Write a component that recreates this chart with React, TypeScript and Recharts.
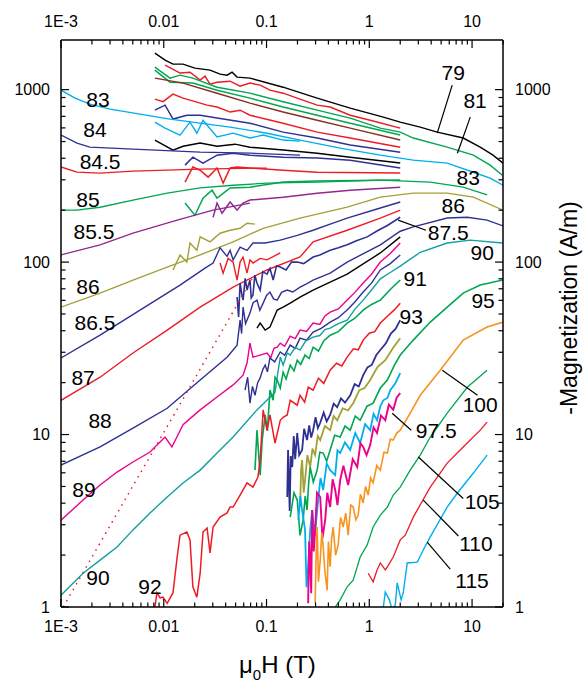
import React from 'react';
import { LineChart, Line, XAxis, YAxis, ReferenceDot, ReferenceLine } from 'recharts';

type P = [number, number];

// ---- series (field in T, -magnetization in A/m) ----
const m79: P[] = [[0.0082,1628],[0.0103,1482],[0.0123,1406],[0.0154,1406],[0.0201,1333],[0.0282,1297],[0.0353,1230],[0.0413,1213],[0.0462,1262],[0.0517,1182],[0.069,1166],[0.145,1033],[0.311,893],[0.652,781],[1.37,693],[2.0,648],[3.13,606],[4.58,567],[8.2,524],[12.0,464],[16.0,417],[20,375]];
const m80: P[] = [[0.0103,1387],[0.0144,1247],[0.018,1262],[0.0226,1135],[0.0252,1197],[0.0282,1076],[0.033,1105],[0.0442,1120],[0.0553,1047],[0.069,1091],[0.0867,1062],[0.108,993],[0.145,954],[0.212,881],[0.311,813],[0.416,792],[0.652,711],[1.02,665],[2.0,598]];
const m81: P[] = [[0.0082,1350],[0.0115,1166],[0.0144,1213],[0.0192,1166],[0.033,1033],[0.069,954],[0.145,851],[0.311,760],[0.652,684],[1.28,598],[2.0,567],[2.68,524],[5.73,464],[10.3,417],[15.0,365],[19.7,319]];
const m81b: P[] = [[0.0082,1297],[0.0115,1105],[0.0192,1091],[0.033,993],[0.069,893],[0.145,792],[0.311,711],[0.652,639],[2.0,545]];
const m82: P[] = [[0.0082,1166],[0.0154,1091],[0.033,954],[0.069,835],[0.145,741],[0.311,665],[0.652,598],[2.0,510]];
const m82b: P[] = [[0.0082,881],[0.00983,851],[0.0123,942],[0.0154,893],[0.0264,813],[0.033,792],[0.0442,741],[0.0553,760],[0.069,711],[0.145,639],[0.311,567],[0.652,524],[2.0,464]];
const m825: P[] = [[0.0082,760],[0.0103,813],[0.0123,675],[0.0168,711],[0.0226,711],[0.033,684],[0.069,639],[0.145,567],[0.311,524],[0.652,477],[2.0,434]];
const m83: P[] = [[0.001,993],[0.00137,893],[0.00191,824],[0.003,771],[0.00587,721],[0.0115,675],[0.0226,639],[0.0442,606],[0.101,559],[0.212,510],[0.521,458],[1.28,417],[2.68,390],[5.73,375],[10.3,332],[15.0,307],[20,279]];
const m83n: P[] = [[0.0082,648],[0.0103,598],[0.0144,545],[0.018,648],[0.021,559],[0.0241,665],[0.033,531],[0.0473,559],[0.069,524],[0.0927,545],[0.145,510],[0.212,503]];
const m835: P[] = [[0.0082,510],[0.0123,446],[0.0154,470],[0.0226,490],[0.033,470],[0.0494,483],[0.069,464],[0.145,446],[0.311,428],[0.652,406],[2.0,375]];
const m84s: P[] = [[0.001,545],[0.00143,490],[0.00191,464],[0.00502,452],[0.0226,434],[0.069,428],[0.212,417]];
const m84n: P[] = [[0.0161,365],[0.0192,406],[0.0241,375],[0.033,417],[0.0473,428],[0.069,417],[0.145,406],[0.311,401],[0.652,390],[2.0,351]];
const m845s: P[] = [[0.001,356],[0.00143,332],[0.0024,328],[0.00502,337],[0.0226,346],[0.101,351]];
const m845n: P[] = [[0.0161,291],[0.0192,356],[0.0226,341],[0.027,311],[0.033,351],[0.0378,287],[0.0442,351],[0.0517,356],[0.069,351],[0.145,341],[0.311,332],[2.0,328]];
const m85s: P[] = [[0.001,200],[0.00143,200],[0.0024,208],[0.00502,229],[0.0108,251],[0.0226,269],[0.0473,279],[0.101,287],[0.311,291],[1.28,299],[3.92,291],[8.2,272],[14.0,245]];
const m85n: P[] = [[0.0161,220],[0.0201,187],[0.0241,235],[0.0295,261],[0.033,235],[0.0442,269],[0.069,272],[0.145,291],[0.311,295],[2.0,299]];
const m855s: P[] = [[0.001,110],[0.0024,126],[0.00502,147],[0.0135,175],[0.0302,200],[0.069,220]];
const m855n: P[] = [[0.0302,182],[0.033,220],[0.0369,192],[0.0442,223],[0.0517,200],[0.0591,220],[0.069,229],[0.145,238],[0.311,251],[0.652,261],[2.0,272]];
const m86s: P[] = [[0.001,54.8],[0.0024,66.1],[0.00502,78.7],[0.0108,93.6],[0.0226,110],[0.0473,131],[0.0927,157],[0.212,180],[0.609,208],[1.28,238],[2.68,251],[5.73,251],[10.3,238],[20,200]];
const m86n: P[] = [[0.0123,90],[0.0144,110],[0.0168,100],[0.018,129],[0.021,117],[0.0226,140],[0.0282,131],[0.0353,147],[0.0442,153],[0.0553,157],[0.0646,168],[0.0772,166]];
const m865: P[] = [[0.001,27.8],[0.0024,37.7],[0.00587,52.7],[0.0144,73.6],[0.0252,92.3],[0.0302,98.7],[0.0353,121],[0.0413,108],[0.0442,117],[0.0473,103],[0.0553,122],[0.0646,117],[0.0738,129],[0.097,129],[0.136,134],[0.199,143],[0.284,153],[0.416,166],[0.609,180],[1.28,206],[2.0,223]];
const m87s: P[] = [[0.001,15.8],[0.0024,21.5],[0.00502,29.7],[0.0108,40.3],[0.0226,54.8],[0.0473,71.6],[0.101,90],[0.212,107],[0.284,131],[0.609,153],[1.28,180],[2.0,200]];
const m87n: P[] = [[0.0353,98.7],[0.0378,86.3],[0.0423,105],[0.0473,100],[0.0517,78.7],[0.0553,100],[0.0591,107],[0.0646,86.3],[0.069,103],[0.0738,98.7],[0.0867,105],[0.101,103],[0.136,113]];
const m875: P[] = [[0.0517,62.7],[0.0535,48],[0.0553,75.6],[0.0572,66],[0.0591,60.2],[0.062,80.5],[0.0646,68.8],[0.069,78.7],[0.071,62],[0.0738,64.4],[0.077,84],[0.0807,75.6],[0.0867,68.8],[0.092,88],[0.101,85.2],[0.108,92],[0.116,78.7],[0.125,95],[0.136,93.6],[0.155,90],[0.175,100],[0.199,100],[0.23,98],[0.284,107],[0.33,110],[0.416,117],[0.5,121],[0.609,126],[0.75,133],[0.953,140],[1.2,152],[1.5,163],[2.0,182]];
const m88: P[] = [[0.001,6.65],[0.0024,8.47],[0.00502,10.9],[0.0108,14.2],[0.0226,20.7],[0.0413,28.1],[0.0517,33.0],[0.0553,46.1],[0.0572,38.5],[0.0591,54.8],[0.0625,44.0],[0.069,50.6],[0.074,58.1],[0.0807,60.2],[0.086,52.6],[0.0927,57.8],[0.1,64.0],[0.108,67.0],[0.117,61.2],[0.127,60.2],[0.14,66.8],[0.159,68.8],[0.18,67.1],[0.212,71.6],[0.245,74.8],[0.284,78.7],[0.416,86.3],[0.609,100],[1.28,126],[2.0,151],[2.68,160],[5.73,180],[8.98,182],[14.0,175],[20,162]];
const m885: P[] = [[0.0807,41.4],[0.0867,44.3],[0.097,40.3],[0.108,42.0],[0.127,52.7],[0.145,54.8],[0.170,57.8],[0.212,62.7],[0.284,68.8],[0.416,76.6],[0.609,85.2],[1.28,113],[2.0,140]];
const m89: P[] = [[0.001,3.19],[0.00164,4.17],[0.0024,5.10],[0.00351,6.06],[0.00502,6.93],[0.00735,7.92],[0.0092,9.04],[0.0103,9.67],[0.012,8.47],[0.0154,11.4],[0.0226,13.9],[0.033,16.5],[0.0473,19.4],[0.0591,22.1],[0.0646,26.0],[0.069,33.9],[0.0738,28.1],[0.0867,28.9],[0.101,29.7],[0.11,27.9],[0.118,31.6],[0.127,32.1],[0.136,33.9],[0.15,32.5],[0.17,37.2],[0.19,36.0],[0.212,40.3],[0.245,39.6],[0.284,44.3],[0.33,43.5],[0.37,48.7],[0.416,51.3],[0.5,53.5],[0.609,60.2],[0.72,66.5],[0.872,75.6],[1.05,85.0],[1.28,100],[1.6,112],[2.0,129]];
const m895: P[] = [[0.0618,18.1],[0.0655,21.5],[0.069,15.2],[0.073,19.0],[0.0772,16.9],[0.082,20.0],[0.0867,21.3],[0.092,23.8],[0.097,25.3],[0.102,23.1],[0.108,27.8],[0.12,26.4],[0.136,30.1],[0.15,28.8],[0.170,33.0],[0.19,31.6],[0.212,36.2],[0.245,35.2],[0.284,39.3],[0.34,41.3],[0.416,44.9],[0.5,47.6],[0.609,52.7],[0.72,58.5],[0.872,67.0],[1.05,75.5],[1.28,90],[1.6,98],[2.0,110]];
const m90: P[] = [[0.001,1.17],[0.00164,1.57],[0.0024,1.87],[0.00351,2.23],[0.00502,2.80],[0.00735,3.51],[0.0108,4.34],[0.0154,5.24],[0.0226,6.22],[0.033,7.81],[0.0473,9.67],[0.0807,13.9],[0.121,17.6],[0.127,21.5],[0.136,28.1],[0.145,25.3],[0.159,29.7],[0.170,28.9],[0.19,32.0],[0.212,30.9],[0.24,34.8],[0.284,36.7],[0.33,37.5],[0.37,40.6],[0.416,41.4],[0.5,44.0],[0.609,46.1],[0.72,53.0],[0.872,60.2],[1.05,68.9],[1.28,80],[1.6,87],[2.0,94.8],[3.13,114],[5.73,129],[9.6,134],[19.7,129]];
const mFit: P[] = [[0.00105,1],[0.0144,15.0],[0.0738,81.9]];
const m91: P[] = [[0.0772,6.22],[0.0807,10.6],[0.0867,5.82],[0.0907,9.29],[0.097,13.0],[0.102,10.5],[0.108,18.1],[0.116,15.8],[0.121,21.5],[0.127,20.7],[0.136,18.6],[0.145,23.0],[0.155,21.0],[0.170,25.3],[0.185,23.4],[0.199,27.0],[0.215,25.5],[0.237,28.9],[0.26,27.6],[0.284,32.1],[0.32,30.5],[0.36,34.9],[0.416,37.7],[0.5,39.5],[0.609,44.3],[0.72,47.1],[0.872,52.7],[1.05,56.8],[1.28,60.2],[1.6,69.4],[2.0,78.7]];
const m92: P[] = [[0.0082,1.0],[0.00858,1.21],[0.0092,1.13],[0.00983,1.14],[0.0108,1.05],[0.0123,1.21],[0.0135,1.95],[0.0144,2.61],[0.0168,2.72],[0.018,2.45],[0.0192,1.31],[0.021,1.14],[0.0226,1.57],[0.0241,2.72],[0.0264,2.87],[0.0282,2.06],[0.0302,2.91],[0.0353,3.32],[0.0413,3.51],[0.0442,3.80],[0.0473,3.80],[0.0553,4.46],[0.0646,5.24],[0.0738,4.96],[0.0825,5.67],[0.0867,7.11],[0.0927,13.9],[0.101,10.6],[0.108,13.0],[0.121,8.93],[0.136,12.1],[0.145,12.6],[0.159,13.0],[0.170,15.8],[0.199,14.8],[0.212,16.9],[0.235,15.4],[0.255,18.8],[0.284,18.1],[0.32,21.2],[0.36,19.8],[0.416,23.6],[0.48,25.9],[0.54,25.0],[0.609,28.1],[0.7,31.4],[0.78,31.0],[0.872,35.3],[1.0,38.7],[1.13,39.5],[1.28,44.3],[1.5,48.5],[1.75,52.8],[2.0,57.8]];
const m93: P[] = [[0.159,4.34],[0.162,8.13],[0.168,3.6],[0.172,7.5],[0.178,6.48],[0.184,9.8],[0.190,7.2],[0.199,10.2],[0.208,7.6],[0.222,8.13],[0.232,10.8],[0.248,9.29],[0.26,11.3],[0.272,9.6],[0.284,10.6],[0.30,12.6],[0.316,10.9],[0.333,11.7],[0.36,13.4],[0.385,11.9],[0.416,13.0],[0.45,15.1],[0.487,14.4],[0.53,16.2],[0.58,15.3],[0.652,16.9],[0.72,19.6],[0.79,19.0],[0.872,22.1],[0.96,24.5],[1.06,25.4],[1.17,28.9],[1.28,30.9],[1.45,33.8],[1.62,38.5],[1.8,41.0],[2.0,46.1]];
const m94: P[] = [[0.212,3.80],[0.217,6.2],[0.222,7.11],[0.23,4.6],[0.237,5.45],[0.25,7.6],[0.266,6.48],[0.28,8.3],[0.297,7.60],[0.315,9.8],[0.333,9.29],[0.37,11.2],[0.416,10.6],[0.45,12.8],[0.487,12.1],[0.55,14.2],[0.62,13.8],[0.697,15.2],[0.80,18.1],[0.9,18.6],[1.02,20.7],[1.2,24.6],[1.43,27.0],[1.7,31.8],[2.0,36.2]];
const m95: P[] = [[0.170,3.32],[0.185,4.6],[0.199,4.17],[0.212,2.6],[0.227,3.19],[0.238,4.4],[0.248,3.65],[0.257,5.2],[0.266,6.48],[0.285,5.3],[0.311,6.22],[0.33,7.9],[0.356,7.81],[0.385,7.0],[0.416,8.13],[0.46,9.9],[0.521,9.67],[0.58,11.2],[0.652,10.6],[0.73,12.8],[0.815,12.1],[0.95,14.6],[1.09,15.2],[1.28,18.6],[1.50,20.7],[1.75,25.2],[2.0,28.9],[2.68,35.3],[3.92,44.9],[5.73,54.8],[8.2,66.1],[12.0,73.6],[20,78.7]];
const m96: P[] = [[0.204,3.19],[0.213,4.4],[0.222,3.65],[0.237,2.80],[0.245,1.3],[0.254,1.71],[0.266,2.80],[0.278,3.65],[0.295,2.6],[0.318,4.17],[0.335,5.6],[0.356,4.77],[0.385,6.8],[0.416,6.22],[0.466,5.82],[0.49,8.1],[0.521,7.81],[0.58,9.0],[0.652,8.13],[0.73,10.2],[0.815,8.93],[0.91,11.5],[1.02,10.6],[1.1,13.2],[1.19,12.1],[1.28,14.6],[1.37,15.8],[1.5,16.3],[1.60,18.1],[1.8,19.9],[2.0,22.7]];
const m975: P[] = [[0.254,1.05],[0.26,2.4],[0.266,1.87],[0.272,1.2],[0.278,3.65],[0.288,2.1],[0.297,2.80],[0.31,4.6],[0.333,4.34],[0.35,2.5],[0.372,3.19],[0.39,4.6],[0.416,3.80],[0.44,5.5],[0.466,4.77],[0.49,3.9],[0.521,5.45],[0.56,6.6],[0.623,5.10],[0.69,7.2],[0.763,6.48],[0.82,8.9],[0.872,8.47],[0.94,7.6],[1.02,8.69],[1.1,11.0],[1.19,10.2],[1.3,12.9],[1.43,12.1],[1.55,14.9],[1.71,13.9],[1.85,16.4],[2.0,17.4]];
const m100: P[] = [[0.297,1.05],[0.304,2.0],[0.311,2.91],[0.32,1.4],[0.333,1.87],[0.345,2.7],[0.356,2.23],[0.37,1.6],[0.389,1.25],[0.40,2.4],[0.416,1.71],[0.43,2.5],[0.445,2.91],[0.47,2.0],[0.498,2.29],[0.525,3.3],[0.557,2.91],[0.59,3.5],[0.623,2.61],[0.66,3.9],[0.697,3.80],[0.74,3.2],[0.78,3.41],[0.82,4.5],[0.872,4.01],[0.92,5.0],[0.975,4.46],[1.03,5.6],[1.09,5.24],[1.18,6.6],[1.28,6.22],[1.39,7.9],[1.50,7.81],[1.6,9.4],[1.71,9.29],[1.85,10.2],[2.0,10.6],[2.5,13.3],[3.13,16.9],[4.9,23.6],[8.2,35.3],[14.0,42.0],[20,44.9]];
const m105: P[] = [[0.466,1.0],[0.521,1.10],[0.609,1.31],[0.697,1.43],[0.815,1.95],[0.953,2.29],[1.09,2.91],[1.28,3.41],[1.50,3.80],[1.71,4.46],[2.0,4.96],[2.5,6.22],[3.13,7.60],[3.92,9.67],[5.73,13.3],[8.98,18.8],[14.0,23.6]];
const m110: P[] = [[0.975,1.57],[1.09,1.40],[1.19,1.64],[1.28,1.80],[1.43,1.64],[1.50,1.71],[1.71,1.95],[2.0,2.45],[2.24,2.61],[2.68,3.32],[3.92,4.96],[5.73,6.83],[8.2,8.47],[12.0,10.6],[14.0,11.8]];
const m115: P[] = [[1.37,1.0],[1.43,1.22],[1.57,1.10],[1.67,0.96],[1.79,1.03],[1.87,1.38],[2.04,1.10],[2.14,1.21],[2.34,1.80],[2.93,1.82],[3.35,2.14],[3.92,2.55],[5.73,3.80],[7.2,4.58],[10.3,5.98],[14.0,7.60]];

// ---- curve labels [text, field, magnetization] ----
const leftLabels: [string, number, number][] = [['83',0.00229,881],['84',0.00214,590],['84.5',0.0024,385],['85',0.00183,232],['85.5',0.00209,151],['86',0.00183,72.6],['86.5',0.00214,44.9],['87',0.00164,21.3],['88',0.0024,12.1],['89',0.00167,4.82],['90',0.00229,1.49],['92',0.00735,1.31]];
const rightLabels: [string, number, number][] = [['79',6.56,1262],['81',10.7,860],['83',9.18,311],['86',6.56,214],['87.5',5.86,149],['90',12.55,113],['91',2.8,79.8],['93',2.56,48.6],['95',12.8,60.2],['100',12.0,15.0],['97.5',4.48,10.5],['105',12.55,4.11],['110',10.9,2.32],['115',10.0,1.43]];
// leader lines [x1, y1, x2, y2]
const leaders: [number, number, number, number][] = [[6.41,1062,4.58,559],[9.6,693,7.2,428],[1.91,175,3.56,153],[5.13,23.6,11.3,16.9],[1.67,13.3,2.56,10.6],[3.0,7.41,8.2,4.26],[3.35,4.17,7.36,2.58],[3.66,2.38,6.13,1.66]];

// ---- axes ----
const xMajor = [0.001, 0.01, 0.1, 1, 10];
const xMajorLabels = ['1E-3', '0.01', '0.1', '1', '10'];
const yMajor = [1, 10, 100, 1000];
const yMajorLabels = ['1', '10', '100', '1000'];
const minorSteps = [2, 3, 4, 5, 6, 7, 8, 9];
const X_DOMAIN: [number, number] = [0.001, 20];
const Y_DOMAIN: [number, number] = [1, 1940];

const xTicks = xMajor.flatMap((m) => [m, ...minorSteps.map((s) => +(m * s).toPrecision(3))]).filter((v) => v <= X_DOMAIN[1]);
const yTicks = yMajor.flatMap((m) => [m, ...minorSteps.map((s) => +(m * s).toPrecision(3))]).filter((v) => v <= Y_DOMAIN[1]);

const BLACK = '#000000', RED = '#ed1c24', GREEN = '#00a651', BROWN = '#8b2e1f', NAVY = '#2e3192',
  CYAN = '#00aeef', PURPLE = '#92278f', OLIVE = '#a3a035', MAGENTA = '#ec008c', TEAL = '#10a0a0', ORANGE = '#f7941d';

type Curve = { id: string; pts: P[]; color: string; w: number; dash?: string };
const curves: Curve[] = [
  { id: 'm79', pts: m79, color: BLACK, w: 1.4 },
  { id: 'm80', pts: m80, color: RED, w: 1.5 },
  { id: 'm81', pts: m81, color: GREEN, w: 1.4 },
  { id: 'm81b', pts: m81b, color: GREEN, w: 1.5 },
  { id: 'm82', pts: m82, color: BROWN, w: 1.5 },
  { id: 'm82b', pts: m82b, color: RED, w: 1.5 },
  { id: 'm825', pts: m825, color: NAVY, w: 1.5 },
  { id: 'm83n', pts: m83n, color: CYAN, w: 1.4 },
  { id: 'm83', pts: m83, color: CYAN, w: 1.4 },
  { id: 'm835', pts: m835, color: BLACK, w: 1.5 },
  { id: 'm84s', pts: m84s, color: NAVY, w: 1.3 },
  { id: 'm84n', pts: m84n, color: NAVY, w: 1.5 },
  { id: 'm845s', pts: m845s, color: RED, w: 1.3 },
  { id: 'm845n', pts: m845n, color: RED, w: 1.5 },
  { id: 'm85s', pts: m85s, color: GREEN, w: 1.3 },
  { id: 'm85n', pts: m85n, color: GREEN, w: 1.5 },
  { id: 'm855s', pts: m855s, color: PURPLE, w: 1.3 },
  { id: 'm855n', pts: m855n, color: PURPLE, w: 1.5 },
  { id: 'm86s', pts: m86s, color: OLIVE, w: 1.3 },
  { id: 'm86n', pts: m86n, color: OLIVE, w: 1.4 },
  { id: 'm865', pts: m865, color: NAVY, w: 1.4 },
  { id: 'm87s', pts: m87s, color: RED, w: 1.4 },
  { id: 'm87n', pts: m87n, color: RED, w: 1.4 },
  { id: 'm875', pts: m875, color: NAVY, w: 1.6 },
  { id: 'm88', pts: m88, color: NAVY, w: 1.4 },
  { id: 'm885', pts: m885, color: BLACK, w: 1.4 },
  { id: 'm89', pts: m89, color: MAGENTA, w: 1.4 },
  { id: 'm895', pts: m895, color: NAVY, w: 1.4 },
  { id: 'm90', pts: m90, color: TEAL, w: 1.4 },
  { id: 'mFit', pts: mFit, color: RED, w: 1.5, dash: '1.5 5' },
  { id: 'm91', pts: m91, color: GREEN, w: 1.6 },
  { id: 'm92', pts: m92, color: RED, w: 1.5 },
  { id: 'm93', pts: m93, color: NAVY, w: 1.8 },
  { id: 'm94', pts: m94, color: OLIVE, w: 1.8 },
  { id: 'm95', pts: m95, color: GREEN, w: 1.6 },
  { id: 'm96', pts: m96, color: CYAN, w: 1.8 },
  { id: 'm975', pts: m975, color: MAGENTA, w: 1.9 },
  { id: 'm100', pts: m100, color: ORANGE, w: 1.6 },
  { id: 'm105', pts: m105, color: GREEN, w: 1.3 },
  { id: 'm110', pts: m110, color: RED, w: 1.3 },
  { id: 'm115', pts: m115, color: CYAN, w: 1.4 },
];

const majorIndex = (v: number, majors: number[]) => majors.findIndex((m) => Math.abs(v / m - 1) < 1e-6);
const TICK_FONT = 16;

const BottomTick = (props: any) => {
  const { x, y, payload } = props;
  const i = majorIndex(payload.value, xMajor);
  const len = i >= 0 ? 8 : 4.5;
  return (
    <g>
      <line x1={x} y1={y} x2={x} y2={y - len} stroke="#000" strokeWidth={1.2} />
      {i >= 0 && <text x={x} y={y + 25} textAnchor="middle" fontSize={TICK_FONT} fill="#000">{xMajorLabels[i]}</text>}
    </g>
  );
};
const TopTick = (props: any) => {
  const { x, y, payload } = props;
  const i = majorIndex(payload.value, xMajor);
  const len = i >= 0 ? 8 : 4.5;
  return (
    <g>
      <line x1={x} y1={y} x2={x} y2={y + len} stroke="#000" strokeWidth={1.2} />
      {i >= 0 && <text x={x} y={y - 13} textAnchor="middle" fontSize={TICK_FONT} fill="#000">{xMajorLabels[i]}</text>}
    </g>
  );
};
const LeftTick = (props: any) => {
  const { x, y, payload } = props;
  const i = majorIndex(payload.value, yMajor);
  const len = i >= 0 ? 8 : 4.5;
  return (
    <g>
      <line x1={x} y1={y} x2={x + len} y2={y} stroke="#000" strokeWidth={1.2} />
      {i >= 0 && <text x={x - 11} y={y} dy="0.36em" textAnchor="end" fontSize={TICK_FONT} fill="#000">{yMajorLabels[i]}</text>}
    </g>
  );
};
const RightTick = (props: any) => {
  const { x, y, payload } = props;
  const i = majorIndex(payload.value, yMajor);
  const len = i >= 0 ? 8 : 4.5;
  return (
    <g>
      <line x1={x} y1={y} x2={x - len} y2={y} stroke="#000" strokeWidth={1.2} />
      {i >= 0 && <text x={x + 12} y={y} dy="0.36em" textAnchor="start" fontSize={TICK_FONT} fill="#000">{yMajorLabels[i]}</text>}
    </g>
  );
};

const axisLine = { stroke: '#000', strokeWidth: 1.5 };
const LABEL_FONT = 21;

export default function App() {
  return (
    <div style={{ position: 'relative', width: 587, height: 683 }}>
      <style>{'body{margin:0;overflow:hidden} svg text{font-family:"Liberation Sans",Arial,sans-serif}'}</style>
      <LineChart width={587} height={683} margin={{ top: 0, right: 0, bottom: 0, left: 0 }}>
        <XAxis dataKey="x" type="number" scale="log" domain={X_DOMAIN} allowDataOverflow ticks={xTicks} interval={0}
          tick={BottomTick} tickSize={0} tickMargin={0} tickLine={false} axisLine={axisLine} height={76} orientation="bottom" />
        <XAxis xAxisId="top" dataKey="x" type="number" scale="log" domain={X_DOMAIN} allowDataOverflow ticks={xTicks} interval={0}
          tick={TopTick} tickSize={0} tickMargin={0} tickLine={false} axisLine={axisLine} height={40} orientation="top" />
        <YAxis type="number" scale="log" domain={Y_DOMAIN} allowDataOverflow ticks={yTicks} interval={0}
          tick={LeftTick} tickSize={0} tickMargin={0} tickLine={false} axisLine={axisLine} width={61} orientation="left" />
        <YAxis yAxisId="right" type="number" scale="log" domain={Y_DOMAIN} allowDataOverflow ticks={yTicks} interval={0}
          tick={RightTick} tickSize={0} tickMargin={0} tickLine={false} axisLine={axisLine} width={84} orientation="right" />
        {curves.map((c) => (
          <Line key={c.id} data={c.pts.map(([x, y]) => ({ x, y }))} dataKey="y" type="linear" stroke={c.color}
            strokeWidth={c.w} strokeDasharray={c.dash} dot={false} activeDot={false} isAnimationActive={false} />
        ))}
        {leaders.map(([x1, y1, x2, y2], i) => (
          <ReferenceLine key={'ld' + i} segment={[{ x: x1, y: y1 }, { x: x2, y: y2 }]} stroke="#000" strokeWidth={1.2} ifOverflow="visible" />
        ))}
        {[...leftLabels, ...rightLabels].map(([t, x, y], i) => (
          <ReferenceDot key={'lb' + i} x={x} y={y} r={1} fill="none" stroke="none" ifOverflow="visible"
            label={{ value: t, position: 'center', fontSize: LABEL_FONT, fill: '#000' }} />
        ))}
      </LineChart>
      <svg width={587} height={683} style={{ position: 'absolute', left: 0, top: 0, pointerEvents: 'none' }}>
        <text x={239} y={673} fontSize={24} fill="#000">
          μ<tspan fontSize={15} dy={7}>0</tspan><tspan dy={-7}>H (T)</tspan>
        </text>
        <text transform="translate(577,308) rotate(-90)" textAnchor="middle" fontSize={23} fill="#000">-Magnetization (A/m)</text>
      </svg>
    </div>
  );
}
